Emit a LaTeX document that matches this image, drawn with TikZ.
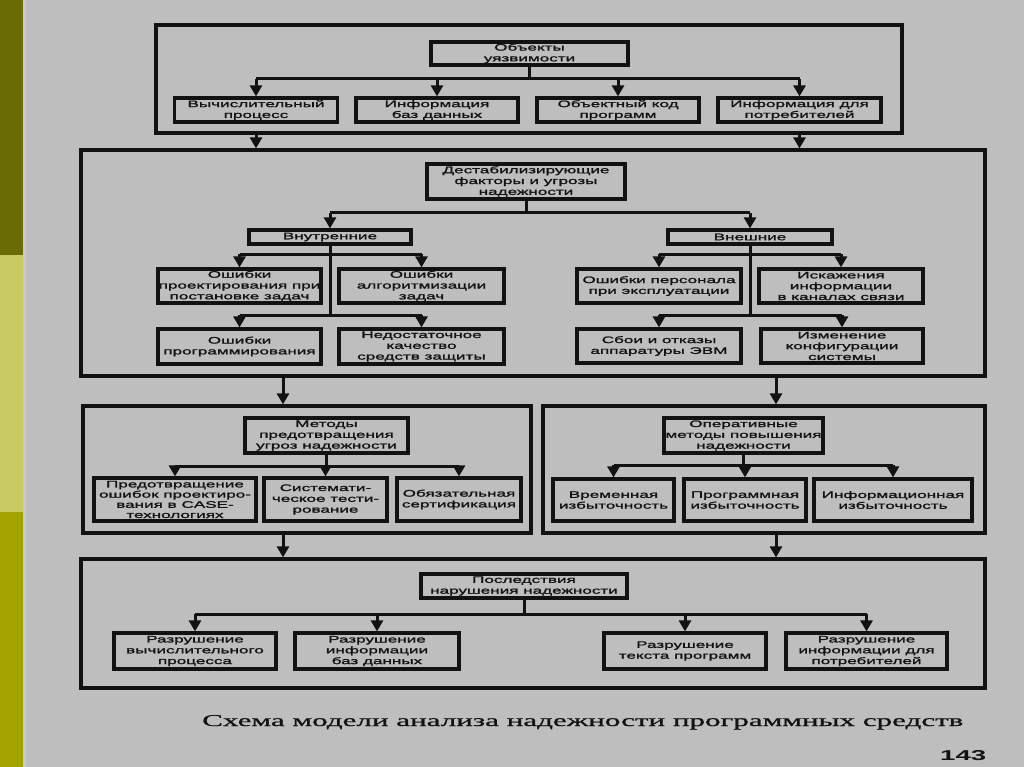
\documentclass[tikz,border=0pt]{standalone}
\usepackage{fontspec}
\setmainfont{Liberation Sans}
\newfontfamily\boxfont[FakeStretch=1.8,FakeBold=1.6]{Liberation Sans}
\newfontfamily\capfont[FakeBold=0.8]{Liberation Serif}
\newfontfamily\numfont{Liberation Sans}
\usetikzlibrary{arrows.meta}
\definecolor{bg}{HTML}{BEBEBE}
\definecolor{ink}{HTML}{121212}
\definecolor{olA}{HTML}{6B6B05}
\definecolor{olB}{HTML}{C9C963}
\definecolor{olC}{HTML}{A2A200}
\definecolor{edge}{HTML}{C9C9C9}
\begin{document}
\begin{tikzpicture}[x=1pt,y=-1pt,
  frame/.style={draw=ink, line width=3.2pt, inner sep=0pt},
  bx/.style={draw=ink, line width=3.2pt, inner sep=0pt, align=center,
    font=\boxfont\fontsize{9.5}{10.8}\selectfont, text=ink},
  tight/.style={font=\boxfont\fontsize{9.5}{10.2}\selectfont},
  bw/.style={minimum width=#1},
  bh/.style={minimum height=#1},
  ln/.style={draw=ink, line width=3pt},
  arr/.style={draw=ink, line width=3pt, -{Triangle[length=11pt,width=12pt]}},
]
\useasboundingbox (0,0) rectangle (1024,767);
\fill[bg] (0,0) rectangle (1024,767);
\fill[olA] (0,0) rectangle (23,255);
\fill[olB] (0,255) rectangle (23,512);
\fill[olC] (0,512) rectangle (23,767);
\fill[edge] (23,0) rectangle (26,767);

% frames
\node[frame, bw=746, bh=108] (f1) at (529,79) {};
\node[frame, bw=904, bh=226] (f2) at (533,263) {};
\node[frame, bw=448, bh=127] (f3) at (307,469.5) {};
\node[frame, bw=442, bh=127] (f4) at (764,469.5) {};
\node[frame, bw=904, bh=129] (f5) at (533,623.5) {};

% level 1
\node[bx, bw=197, bh=23] (o1) at (529.5,53.5) {Объекты\\уязвимости};
\node[bx, bw=163, bh=24] (a1) at (256,110) {Вычислительный\\процесс};
\node[bx, bw=162, bh=24] (a2) at (437,110) {Информация\\баз данных};
\node[bx, bw=162, bh=24] (a3) at (618,110) {Объектный код\\программ};
\node[bx, bw=163, bh=24] (a4) at (799.5,110) {Информация для\\потребителей};

% level 2
\node[bx, bw=198, bh=35] (d) at (526,181.5) {Дестабилизирующие\\факторы и угрозы\\надежности};
\node[bx, bw=162, bh=14] (in) at (330,237) {Внутренние};
\node[bx, bw=164, bh=14] (ex) at (750,237) {Внешние};
\node[bx, bw=163, bh=34] (i1) at (239.5,286) {Ошибки\\проектирования при\\постановке задач};
\node[bx, bw=165, bh=34] (i2) at (421.5,286) {Ошибки\\алгоритмизации\\задач};
\node[bx, bw=163, bh=35] (i3) at (239.5,346.5) {Ошибки\\программирования};
\node[bx, bw=165, bh=35] (i4) at (421.5,346.5) {Недостаточное\\качество\\средств защиты};
\node[bx, bw=164, bh=34] (e1) at (659,286) {Ошибки персонала\\при эксплуатации};
\node[bx, bw=164, bh=34] (e2) at (841,286) {Искажения\\информации\\в каналах связи};
\node[bx, bw=164, bh=34] (e3) at (659,346) {Сбои и отказы\\аппаратуры ЭВМ};
\node[bx, bw=162, bh=34] (e4) at (842,346) {Изменение\\конфигурации\\системы};

% level 3
\node[bx, bw=163, bh=35] (m) at (326.5,435.5) {Методы\\предотвращения\\угроз надежности};
\node[bx, tight, bw=162, bh=43] (m1) at (175,499.5) {Предотвращение\\ошибок проектиро-\\вания в CASE-\\технологиях};
\node[bx, bw=123, bh=43] (m2) at (325.5,499.5) {Системати-\\ческое тести-\\рование};
\node[bx, bw=124, bh=43] (m3) at (459,499.5) {Обязательная\\сертификация};
\node[bx, bw=159, bh=35] (op) at (743.5,435.5) {Оперативные\\методы повышения\\надежности};
\node[bx, bw=121, bh=42] (r1) at (613.5,500) {Временная\\избыточность};
\node[bx, bw=122, bh=42] (r2) at (745,500) {Программная\\избыточность};
\node[bx, bw=158, bh=42] (r3) at (893,500) {Информационная\\избыточность};

% level 4
\node[bx, bw=206, bh=24] (p) at (524,586) {Последствия\\нарушения надежности};
\node[bx, bw=162, bh=36] (q1) at (195,651) {Разрушение\\вычислительного\\процесса};
\node[bx, bw=164, bh=36] (q2) at (377,651) {Разрушение\\информации\\баз данных};
\node[bx, bw=162, bh=36] (q3) at (685,651) {Разрушение\\текста программ};
\node[bx, bw=161, bh=36] (q4) at (866.5,651) {Разрушение\\информации для\\потребителей};

% connectors level 1
\draw[ln] (o1.south) -- (o1.south |- 0,79);
\draw[ln] (a1 |- 0,79) -- (a4 |- 0,79);
\foreach \n in {a1,a2,a3,a4} \draw[arr] (\n |- 0,79) -- (\n.north);
\draw[arr] (a1 |- f1.south) -- (a1 |- f2.north);
\draw[arr] (a4 |- f1.south) -- (a4 |- f2.north);

% connectors level 2
\draw[ln] (d.south) -- (d.south |- 0,213);
\draw[ln] (in |- 0,213) -- (ex |- 0,213);
\draw[arr] (in |- 0,213) -- (in.north);
\draw[arr] (ex |- 0,213) -- (ex.north);
\draw[ln] (in.south) -- (in.south |- 0,315);
\draw[ln] (i1 |- 0,254) -- (i2 |- 0,254);
\draw[ln] (i3 |- 0,315) -- (i4 |- 0,315);
\foreach \n in {i1,i2} \draw[arr] (\n |- 0,254) -- (\n.north);
\foreach \n in {i3,i4} \draw[arr] (\n |- 0,315) -- (\n.north);
\draw[ln] (ex.south) -- (ex.south |- 0,315);
\draw[ln] (e1 |- 0,254) -- (e2 |- 0,254);
\draw[ln] (e3 |- 0,315) -- (e4 |- 0,315);
\foreach \n in {e1,e2} \draw[arr] (\n |- 0,254) -- (\n.north);
\foreach \n in {e3,e4} \draw[arr] (\n |- 0,315) -- (\n.north);

% between frames
\coordinate (k1) at (283,0);
\coordinate (k2) at (776,0);
\draw[arr] (k1 |- f2.south) -- (k1 |- f3.north);
\draw[arr] (k2 |- f2.south) -- (k2 |- f4.north);
\draw[arr] (k1 |- f3.south) -- (k1 |- f5.north);
\draw[arr] (k2 |- f4.south) -- (k2 |- f5.north);

% connectors level 3
\draw[ln] (m.south) -- (m.south |- 0,466);
\draw[ln] (m1 |- 0,466) -- (m3 |- 0,466);
\foreach \n in {m1,m2,m3} \draw[arr] (\n |- 0,466) -- (\n.north);
\draw[ln] (op.south) -- (op.south |- 0,465);
\draw[ln] (r1 |- 0,465) -- (r3 |- 0,465);
\foreach \n in {r1,r2,r3} \draw[arr] (\n |- 0,465) -- (\n.north);

% connectors level 4
\draw[ln] (p.south) -- (p.south |- 0,614);
\draw[ln] (q1 |- 0,614) -- (q4 |- 0,614);
\foreach \n in {q1,q2,q3,q4} \draw[arr] (\n |- 0,614) -- (\n.north);

% caption
\node[anchor=base west, inner sep=0pt, text=ink] (cap) at (202,726)
  {\resizebox{761pt}{11pt}{\capfont Схема модели анализа надежности программных средств}};
\node[anchor=base west, inner sep=0pt, text=ink] (num) at (940,760)
  {\resizebox{46pt}{10pt}{\numfont\bfseries 143}};
\end{tikzpicture}
\end{document}
